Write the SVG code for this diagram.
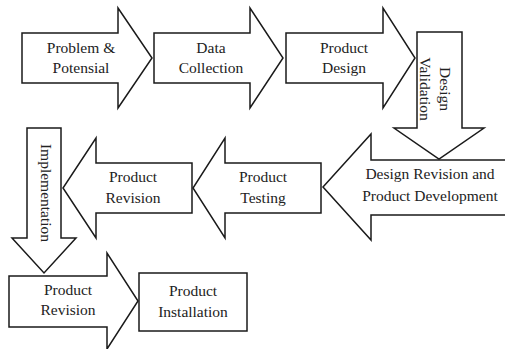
<svg xmlns="http://www.w3.org/2000/svg" width="505" height="349" viewBox="0 0 505 349">
<style>
.s{fill:#fff;stroke:#1a1a1a;stroke-width:1.5;stroke-linejoin:miter}
.t{font-family:"Liberation Serif","Times New Roman",serif;font-size:15.5px;fill:#222;text-anchor:middle}
</style>
<rect width="505" height="349" fill="#fff"/>
<g id="connectors"></g>
<g id="n1"><polygon class="s" points="22,33 118,33 118,8 152,58 118,108 118,83 22,83"/>
<text class="t" x="81" y="53">Problem &amp;</text><text class="t" x="81" y="73">Potensial</text></g>
<g id="n2"><polygon class="s" points="154,33 250,33 250,8 283,58 250,108 250,83 154,83"/>
<text class="t" x="211" y="53">Data</text><text class="t" x="211" y="73">Collection</text></g>
<g id="n3"><polygon class="s" points="286,33 383,33 383,8 415,58 383,108 383,83 286,83"/>
<text class="t" x="344" y="53">Product</text><text class="t" x="344" y="73">Design</text></g>
<g id="n4"><polygon class="s" points="417,32 462,32 462,128 484,128 439,159 394,128 417,128"/>
<g transform="translate(436,89) rotate(90)"><text class="t" x="0" y="-4">Design</text><text class="t" x="0" y="16">Validation</text></g></g>
<g id="n5"><polygon class="s" points="506,160 371,160 371,134 323,187 371,240 371,215 506,215"/>
<text class="t" x="430" y="179">Design Revision and</text><text class="t" x="430" y="201">Product Development</text></g>
<g id="n6"><polygon class="s" points="321,163 225,163 225,138 193,188 225,238 225,213 321,213"/>
<text class="t" x="263" y="182">Product</text><text class="t" x="263" y="203">Testing</text></g>
<g id="n7"><polygon class="s" points="192,163 96,163 96,138 63,188 96,238 96,213 192,213"/>
<text class="t" x="133" y="182">Product</text><text class="t" x="133" y="203">Revision</text></g>
<g id="n8"><polygon class="s" points="27,128 61,128 61,238 76,238 44,273 12,238 27,238"/>
<text class="t" transform="translate(41,193) rotate(90)" x="0" y="0">Implementation</text></g>
<g id="n9"><polygon class="s" points="9,276 107,276 107,253 138,301 107,349 107,327 9,327"/>
<text class="t" x="68" y="295">Product</text><text class="t" x="68" y="315">Revision</text></g>
<g id="n10"><rect class="s" x="139" y="273" width="108" height="58"/>
<text class="t" x="193" y="296">Product</text><text class="t" x="193" y="317">Installation</text></g>
</svg>
